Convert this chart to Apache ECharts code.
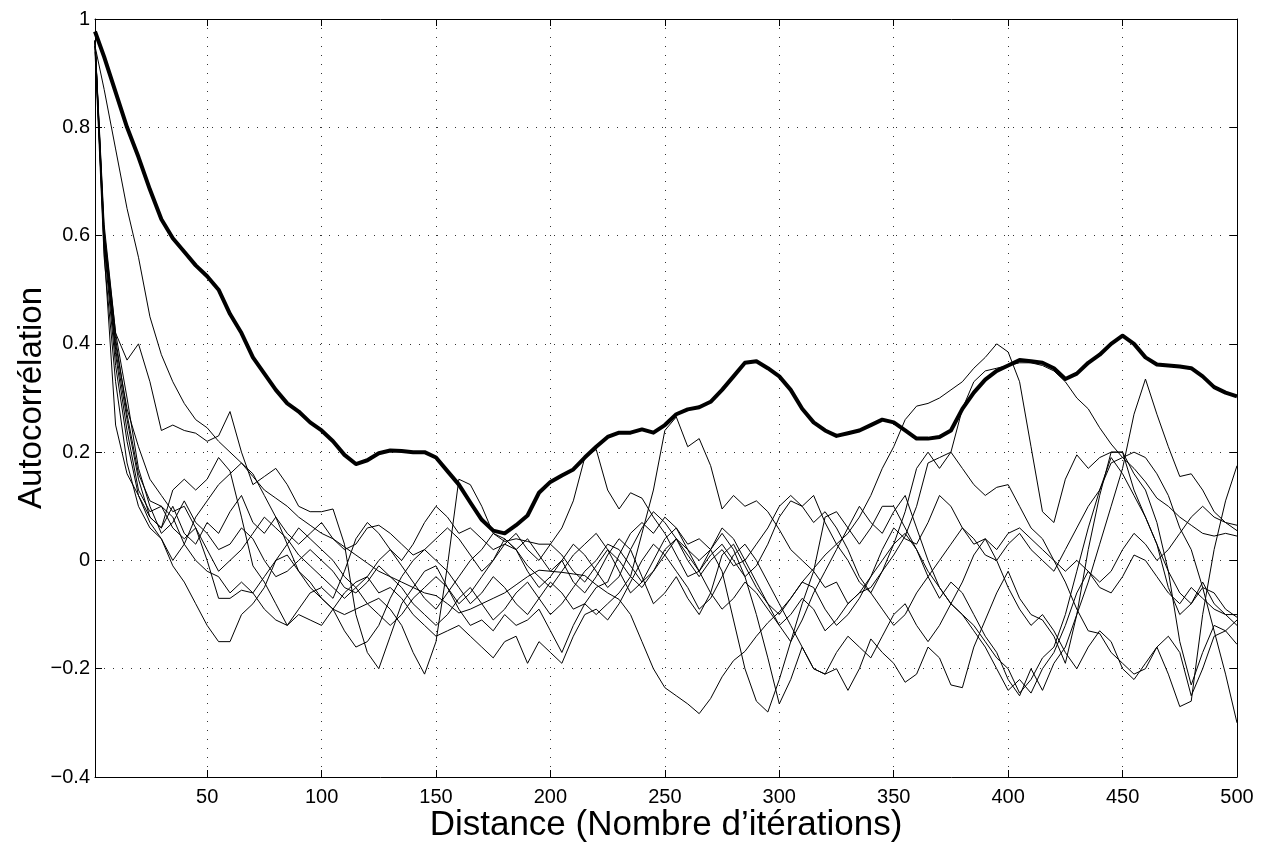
<!DOCTYPE html>
<html>
<head>
<meta charset="utf-8">
<script src="https://cdn.jsdelivr.net/npm/echarts@6/dist/echarts.min.js"></script>
<style>
  html, body { margin: 0; padding: 0; background: #fff; }
  #chart { width: 1265px; height: 844px; }
</style>
</head>
<body>
<div id="chart"></div>
<script>
// Lag (number of iterations) at which each autocorrelation value is given
const lags = [1, 5, 10, 15, 20, 25, 30, 35, 40, 45, 50, 55, 60,
  65, 70, 75, 80, 85, 90, 95, 100, 105, 110, 115, 120, 125, 130, 135, 140, 145, 150,
  155, 160, 165, 170, 175, 180, 185, 190, 195, 200, 205, 210, 215, 220, 225, 230, 235, 240, 245, 250, 255, 260, 265, 270, 275, 280, 285, 290,
  295, 300, 305, 310, 315, 320, 325, 330, 335, 340, 345, 350, 355, 360, 365, 370, 375, 380, 385, 390, 395, 400,
  405, 410, 415, 420, 425, 430, 435, 440, 445, 450, 455, 460, 465, 470, 475, 480, 485, 490, 495, 500];

const xTicks = [50, 100, 150, 200, 250, 300, 350, 400, 450, 500];

// Mean autocorrelation (bold curve)
const meanAcf = [0.977, 0.93, 0.865, 0.80, 0.745, 0.685, 0.63, 0.595, 0.57, 0.545, 0.525, 0.50, 0.455,
  0.42, 0.375, 0.345, 0.315, 0.29, 0.275, 0.255, 0.24, 0.22, 0.195, 0.178, 0.185, 0.198, 0.203, 0.202, 0.20, 0.20, 0.19,
  0.165, 0.14, 0.107, 0.075, 0.055, 0.05, 0.065, 0.083, 0.125, 0.145, 0.157, 0.168, 0.19, 0.21, 0.228, 0.236, 0.236, 0.242, 0.236, 0.25, 0.27, 0.279, 0.283, 0.293, 0.315, 0.34, 0.365, 0.368,
  0.355, 0.34, 0.315, 0.28, 0.255, 0.24, 0.23, 0.235, 0.24, 0.25, 0.26, 0.255, 0.24, 0.225, 0.225, 0.228, 0.24, 0.28, 0.31, 0.334, 0.35, 0.36,
  0.37, 0.368, 0.365, 0.355, 0.335, 0.345, 0.365, 0.38, 0.40, 0.415, 0.40, 0.375, 0.362, 0.36, 0.358, 0.355, 0.34, 0.32, 0.31, 0.303];

// Autocorrelation of the individual chains (thin curves)
const chain1 = [0.95, 0.87, 0.76, 0.65, 0.56, 0.45, 0.38, 0.33, 0.29, 0.26, 0.245, 0.22, 0.20,
  0.18, 0.155, 0.13, 0.115, 0.10, 0.08, 0.065, 0.05, 0.04, 0.025, 0.01, -0.005, -0.02, -0.03, -0.04, -0.05, -0.06, -0.065,
  -0.08, -0.097, -0.09, -0.08, -0.07, -0.06, -0.045, -0.03, -0.018, -0.02, -0.022, -0.025, -0.028, -0.045, -0.06, -0.072, -0.10, -0.15, -0.20, -0.235, -0.25, -0.265, -0.283, -0.255, -0.215, -0.185, -0.168, -0.14,
  -0.115, -0.095, -0.07, -0.04, -0.015, 0.01, 0.03, 0.05, 0.08, 0.12, 0.17, 0.21, 0.26, 0.285, 0.29, 0.30, 0.315, 0.33, 0.355, 0.375, 0.40, 0.385,
  0.33, 0.21, 0.09, 0.07, 0.15, 0.195, 0.17, 0.19, 0.20, 0.20, 0.16, 0.13, 0.07, -0.02, -0.15, -0.23, -0.17, -0.12, -0.13, -0.11];

const chain2 = [0.96, 0.62, 0.42, 0.37, 0.40, 0.33, 0.24, 0.25, 0.24, 0.235, 0.22, 0.23, 0.275,
  0.20, 0.14, 0.155, 0.17, 0.14, 0.10, 0.09, 0.09, 0.095, 0.03, -0.10, -0.17, -0.20, -0.14, -0.08, -0.05, -0.02, -0.01,
  -0.05, -0.09, -0.12, -0.11, -0.13, -0.10, -0.12, -0.11, -0.09, -0.13, -0.17, -0.12, -0.08, -0.05, -0.04, 0.01, 0.05, 0.07, 0.05, 0.08, 0.06, 0.03, 0.04, 0.02, -0.02, -0.11, -0.20, -0.26,
  -0.28, -0.22, -0.15, -0.08, -0.02, 0.08, 0.09, 0.06, 0.03, 0.06, 0.10, 0.10, 0.06, 0.02, -0.03, -0.07, -0.04, -0.06, -0.10, -0.14, -0.17, -0.22,
  -0.25, -0.20, -0.24, -0.19, -0.16, -0.10, -0.04, 0.03, 0.10, 0.17, 0.27, 0.335, 0.27, 0.21, 0.155, 0.16, 0.13, 0.09, 0.07, 0.055];

const chain3 = [0.96, 0.57, 0.25, 0.16, 0.12, 0.08, 0.06, 0.13, 0.15, 0.13, 0.15, 0.19, 0.165,
  0.08, -0.01, -0.04, -0.08, -0.12, -0.09, -0.06, -0.05, -0.07, -0.02, 0.04, 0.07, 0.05, 0.02, 0.00, 0.03, 0.07, 0.10,
  0.08, 0.05, 0.06, 0.04, 0.02, 0.03, 0.05, 0.02, 0.00, 0.03, 0.01, -0.02, -0.04, -0.01, 0.02, 0.00, -0.03, -0.05, -0.02, 0.01, 0.04, 0.02, 0.00, 0.02, 0.05, 0.02, -0.03, -0.10,
  -0.18, -0.265, -0.22, -0.16, -0.20, -0.21, -0.20, -0.24, -0.20, -0.145, -0.17, -0.19, -0.225, -0.21, -0.16, -0.18, -0.23, -0.235, -0.16, -0.11, -0.06, -0.02,
  -0.07, -0.10, -0.11, -0.14, -0.19, -0.10, 0.02, 0.12, 0.20, 0.20, 0.13, 0.08, 0.03, -0.05, -0.10, -0.08, -0.04, -0.08, -0.10, -0.10];

const chain4 = [0.96, 0.60, 0.40, 0.28, 0.21, 0.15, 0.12, 0.09, 0.10, 0.06, 0.00, -0.07, -0.07,
  -0.055, -0.06, -0.03, 0.00, 0.03, 0.06, 0.04, 0.02, 0.00, -0.03, -0.05, -0.08, -0.07, -0.09, -0.12, -0.17, -0.21, -0.15,
  -0.01, 0.15, 0.14, 0.10, 0.05, 0.035, 0.04, 0.035, 0.03, 0.03, 0.06, 0.11, 0.19, 0.205, 0.13, 0.095, 0.125, 0.115, 0.08, 0.05, 0.01, -0.03, -0.02, 0.02, 0.06, 0.04, 0.00, -0.04,
  -0.08, -0.10, -0.07, -0.04, -0.05, -0.09, -0.12, -0.10, -0.07, -0.03, 0.00, 0.03, 0.05, 0.02, -0.02, -0.05, -0.08, -0.10, -0.12, -0.15, -0.18, -0.20,
  -0.245, -0.22, -0.18, -0.16, -0.10, -0.02, 0.06, 0.13, 0.19, 0.16, 0.12, 0.08, 0.03, -0.02, -0.06, -0.08, -0.05, -0.06, -0.09, -0.105];

const chain5 = [0.95, 0.58, 0.36, 0.22, 0.12, 0.07, 0.04, -0.01, -0.04, -0.08, -0.12, -0.15, -0.15,
  -0.10, -0.08, -0.05, 0.00, 0.01, -0.02, -0.04, -0.07, -0.09, -0.13, -0.16, -0.15, -0.12, -0.07, -0.03, 0.00, 0.02, 0.00,
  -0.02, -0.05, -0.08, -0.06, -0.03, -0.05, -0.08, -0.10, -0.07, -0.04, -0.06, -0.09, -0.08, -0.10, -0.08, -0.06, -0.03, 0.05, 0.13, 0.24, 0.265, 0.21, 0.225, 0.175, 0.095, 0.12, 0.10, 0.11,
  0.09, 0.057, 0.02, 0.00, -0.02, -0.05, -0.04, -0.08, -0.06, -0.03, 0.02, 0.06, 0.04, 0.03, 0.07, 0.12, 0.10, 0.06, 0.03, 0.04, 0.02, 0.05,
  0.06, 0.04, 0.02, 0.00, -0.02, 0.00, -0.02, -0.05, -0.06, -0.03, 0.01, 0.00, -0.03, -0.06, -0.08, -0.05, -0.07, -0.09, -0.10, -0.12];

const chain6 = [0.96, 0.59, 0.39, 0.26, 0.15, 0.08, 0.06, 0.10, 0.05, 0.03, 0.07, 0.05, 0.09,
  0.12, 0.07, 0.05, 0.08, 0.05, 0.03, 0.05, 0.07, 0.04, 0.02, 0.03, 0.06, 0.065, 0.05, 0.03, 0.01, 0.02, 0.04,
  0.06, 0.04, 0.01, -0.02, 0.00, 0.03, 0.02, -0.01, -0.03, -0.05, -0.02, 0.01, 0.03, 0.05, 0.02, -0.02, -0.06, -0.04, 0.00, 0.04, 0.06, 0.02, -0.02, 0.01, 0.03, 0.00, -0.03, -0.01,
  0.03, 0.08, 0.11, 0.10, 0.12, 0.07, 0.03, 0.00, -0.04, -0.06, -0.02, 0.03, 0.09, 0.17, 0.20, 0.17, 0.20, 0.17, 0.14, 0.12, 0.135, 0.14,
  0.10, 0.06, 0.04, 0.00, -0.04, -0.09, -0.13, -0.135, -0.17, -0.19, -0.21, -0.20, -0.16, -0.14, -0.17, -0.25, -0.20, -0.14, -0.13, -0.155];

const chain7 = [0.94, 0.56, 0.33, 0.18, 0.10, 0.06, 0.04, 0.00, 0.03, 0.08, 0.11, 0.14, 0.16,
  0.18, 0.16, 0.12, 0.08, 0.03, -0.02, -0.05, -0.07, -0.09, -0.10, -0.09, -0.08, -0.10, -0.12, -0.10, -0.07, -0.05, -0.03,
  -0.05, -0.08, -0.06, -0.03, 0.00, 0.04, 0.02, -0.02, -0.05, -0.03, 0.00, -0.04, -0.06, -0.03, 0.01, 0.04, 0.02, -0.03, -0.08, -0.06, -0.03, -0.07, -0.10, -0.06, 0.01, 0.03, -0.01, -0.05,
  -0.08, -0.12, -0.15, -0.11, -0.06, -0.02, 0.02, 0.06, 0.10, 0.07, 0.05, 0.09, 0.12, 0.06, 0.00, -0.05, -0.08, -0.04, 0.01, 0.04, 0.00, -0.05,
  -0.09, -0.12, -0.10, -0.13, -0.17, -0.20, -0.16, -0.13, -0.15, -0.20, -0.22, -0.19, -0.16, -0.21, -0.27, -0.26, -0.10, 0.02, 0.11, 0.175];

const chain8 = [0.96, 0.61, 0.42, 0.30, 0.17, 0.10, 0.05, 0.07, 0.11, 0.07, 0.05, 0.02, 0.03,
  0.06, 0.04, 0.00, -0.03, -0.02, 0.00, 0.02, 0.00, -0.02, -0.05, -0.06, -0.04, -0.01, -0.03, -0.05, -0.08, -0.10, -0.12,
  -0.10, -0.07, -0.05, -0.08, -0.11, -0.09, -0.06, -0.04, -0.07, -0.10, -0.08, -0.05, -0.02, 0.00, 0.03, 0.02, -0.01, -0.04, -0.02, 0.02, 0.04, 0.01, -0.02, -0.06, -0.09, -0.07, -0.04, -0.06,
  -0.09, -0.12, -0.10, -0.07, -0.09, -0.13, -0.11, -0.08, -0.06, -0.05, -0.02, 0.01, 0.045, 0.10, 0.18, 0.19, 0.20, 0.28, 0.33, 0.35, 0.355, 0.36,
  0.365, 0.365, 0.36, 0.35, 0.33, 0.30, 0.28, 0.245, 0.215, 0.19, 0.17, 0.145, 0.115, 0.10, 0.08, 0.065, 0.05, 0.045, 0.05, 0.045];

const chain9 = [0.95, 0.59, 0.38, 0.24, 0.13, 0.09, 0.10, 0.06, 0.04, 0.06, 0.02, -0.02, 0.00,
  0.02, 0.05, 0.08, 0.06, 0.04, 0.01, -0.01, -0.03, -0.05, -0.07, -0.05, -0.03, 0.00, 0.02, -0.01, -0.04, -0.07, -0.09,
  -0.06, -0.03, 0.00, 0.02, 0.05, 0.04, 0.02, 0.04, 0.01, -0.02, 0.00, 0.03, 0.01, -0.02, -0.05, -0.03, 0.02, 0.06, 0.09, 0.07, 0.04, 0.00, -0.03, 0.00, 0.02, -0.01, 0.00, 0.03,
  0.06, 0.10, 0.12, 0.10, 0.07, 0.09, 0.06, 0.02, -0.03, -0.06, -0.09, -0.12, -0.10, -0.06, -0.03, 0.00, 0.03, 0.06, 0.04, 0.01, 0.00, 0.03,
  0.05, 0.02, 0.00, -0.02, 0.02, 0.06, 0.10, 0.13, 0.18, 0.19, 0.20, 0.19, 0.16, 0.12, 0.06, 0.02, -0.05, -0.13, -0.21, -0.30];

const chain10 = [0.96, 0.60, 0.41, 0.27, 0.16, 0.11, 0.10, 0.08, 0.03, 0.00, -0.02, -0.03, -0.06,
  -0.04, -0.06, -0.09, -0.11, -0.12, -0.10, -0.11, -0.12, -0.09, -0.06, -0.04, -0.03, -0.06, -0.05, -0.07, -0.10, -0.12, -0.14,
  -0.13, -0.12, -0.14, -0.16, -0.18, -0.15, -0.14, -0.19, -0.15, -0.17, -0.19, -0.14, -0.10, -0.09, -0.11, -0.08, -0.04, 0.00, 0.03, 0.01, -0.02, -0.05, -0.09, -0.07, -0.03, 0.01, 0.03, 0.00,
  -0.04, -0.08, -0.12, -0.16, -0.20, -0.21, -0.17, -0.14, -0.16, -0.18, -0.14, -0.10, -0.08, -0.12, -0.15, -0.12, -0.08, -0.10, -0.13, -0.16, -0.20, -0.24,
  -0.22, -0.245, -0.20, -0.17, -0.12, -0.06, -0.02, -0.04, -0.02, 0.02, 0.05, 0.03, 0.00, 0.02, 0.05, 0.08, 0.10, 0.08, 0.07, 0.065];

const chains = [chain1, chain2, chain3, chain4, chain5, chain6, chain7, chain8, chain9, chain10];

const FONT = '"Liberation Sans", Arial, Helvetica, sans-serif';
const pairs = (vals) => lags.map((x, i) => [x, vals[i]]);

const series = chains.map((vals) => ({
  type: 'line',
  data: pairs(vals),
  symbol: 'none',
  silent: true,
  z: 2,
  lineStyle: { color: '#000', width: 1 }
}));
series.push({
  type: 'line',
  data: pairs(meanAcf),
  symbol: 'none',
  silent: true,
  z: 3,
  lineStyle: { color: '#000', width: 4, join: 'round' }
});

const fmtY = (v) => {
  const r = Math.round(v * 10) / 10;
  return r < 0 ? '\u2212' + Math.abs(r) : String(r);
};

const axisLine = { show: true, onZero: false, lineStyle: { color: '#000', width: 1 } };
const gridDots = { show: true, lineStyle: { color: '#333', width: 1, type: [1, 8] } };

const option = {
  animation: false,
  backgroundColor: '#fff',
  grid: { left: 95, right: 28, top: 19, bottom: 67, containLabel: false, outerBoundsMode: 'none' },
  xAxis: [
    {
      type: 'value', min: 1, max: 500, position: 'bottom',
      name: 'Distance (Nombre d\u2019it\u00e9rations)',
      nameLocation: 'middle', nameGap: 31, nameMoveOverlap: false,
      nameTextStyle: { fontSize: 35, color: '#000', fontFamily: FONT },
      axisLine: axisLine,
      axisTick: { show: true, inside: true, length: 7, customValues: xTicks, lineStyle: { color: '#000' } },
      axisLabel: { show: true, customValues: xTicks, fontSize: 20, color: '#000', margin: 10, fontFamily: FONT },
      splitLine: gridDots
    },
    {
      type: 'value', min: 1, max: 500, position: 'top',
      axisLine: axisLine,
      axisTick: { show: true, inside: true, length: 7, customValues: xTicks, lineStyle: { color: '#000' } },
      axisLabel: { show: false },
      splitLine: { show: false }
    }
  ],
  yAxis: [
    {
      type: 'value', min: -0.4, max: 1, interval: 0.2, position: 'left',
      name: 'Autocorr\u00e9lation',
      nameLocation: 'middle', nameGap: 47, nameRotate: 90, nameMoveOverlap: false,
      nameTextStyle: { fontSize: 33, color: '#000', fontFamily: FONT },
      axisLine: axisLine,
      axisTick: { show: true, inside: true, length: 7, lineStyle: { color: '#000' } },
      axisLabel: { show: true, fontSize: 20, color: '#000', margin: 5, fontFamily: FONT, formatter: fmtY },
      splitLine: gridDots
    },
    {
      type: 'value', min: -0.4, max: 1, interval: 0.2, position: 'right',
      axisLine: axisLine,
      axisTick: { show: true, inside: true, length: 7, lineStyle: { color: '#000' } },
      axisLabel: { show: false },
      splitLine: { show: false }
    }
  ],
  series: series
};

const chart = echarts.init(document.getElementById('chart'), null, { renderer: 'canvas' });
chart.setOption(option);
</script>
</body>
</html>
